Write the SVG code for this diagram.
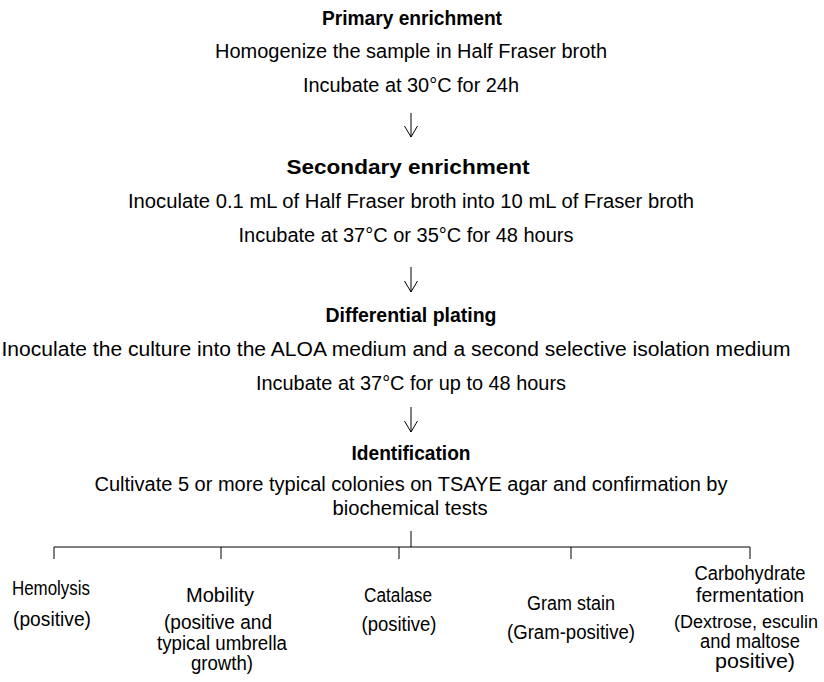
<svg xmlns="http://www.w3.org/2000/svg" width="824" height="682" viewBox="0 0 824 682">
<style>
text{font-family:"Liberation Sans",Arial,sans-serif;font-size:20px;fill:#000;text-anchor:middle}
.b{font-weight:bold}
.sm{font-size:18px}
.ln{stroke:#000;stroke-width:1;fill:none}
</style>
<defs>
<marker id="ah" viewBox="0 0 12 14" refX="11.5" refY="7" markerWidth="12" markerHeight="14" markerUnits="userSpaceOnUse" orient="auto">
<path d="M0.5,0.5 L11.5,7 L0.5,13.5" fill="none" stroke="#000" stroke-width="1"/>
</marker>
</defs>
<rect width="824" height="682" fill="#fff"/>
<g id="primary">
<text class="b" x="412" y="25" textLength="180" lengthAdjust="spacingAndGlyphs">Primary enrichment</text>
<text x="411" y="58" textLength="392" lengthAdjust="spacingAndGlyphs">Homogenize the sample in Half Fraser broth</text>
<text x="411" y="92" textLength="216" lengthAdjust="spacingAndGlyphs">Incubate at 30°C for 24h</text>
</g>
<g id="secondary">
<text class="b" x="408" y="174" textLength="243" lengthAdjust="spacingAndGlyphs">Secondary enrichment</text>
<text x="411" y="208" textLength="566" lengthAdjust="spacingAndGlyphs">Inoculate 0.1 mL of Half Fraser broth into 10 mL of Fraser broth</text>
<text x="406" y="242" textLength="335" lengthAdjust="spacingAndGlyphs">Incubate at 37°C or 35°C for 48 hours</text>
</g>
<g id="plating">
<text class="b" x="411" y="322" textLength="171" lengthAdjust="spacingAndGlyphs">Differential plating</text>
<text x="396" y="356" textLength="789" lengthAdjust="spacingAndGlyphs">Inoculate the culture into the ALOA medium and a second selective isolation medium</text>
<text x="411" y="390" textLength="310" lengthAdjust="spacingAndGlyphs">Incubate at 37°C for up to 48 hours</text>
</g>
<g id="identification">
<text class="b" x="411" y="460" textLength="119" lengthAdjust="spacingAndGlyphs">Identification</text>
<text x="411" y="491" textLength="633" lengthAdjust="spacingAndGlyphs">Cultivate 5 or more typical colonies on TSAYE agar and confirmation by</text>
<text x="410" y="515" textLength="155" lengthAdjust="spacingAndGlyphs">biochemical tests</text>
</g>
<g id="hemolysis">
<text x="51" y="595" textLength="78" lengthAdjust="spacingAndGlyphs">Hemolysis</text>
<text x="52" y="626" textLength="78" lengthAdjust="spacingAndGlyphs">(positive)</text>
</g>
<g id="mobility">
<text x="220" y="602" textLength="68" lengthAdjust="spacingAndGlyphs">Mobility</text>
<text x="218" y="629" textLength="108" lengthAdjust="spacingAndGlyphs">(positive and</text>
<text x="222" y="650" textLength="130" lengthAdjust="spacingAndGlyphs">typical umbrella</text>
<text x="222" y="670" textLength="62" lengthAdjust="spacingAndGlyphs">growth)</text>
</g>
<g id="catalase">
<text x="398" y="602" textLength="68" lengthAdjust="spacingAndGlyphs">Catalase</text>
<text x="399" y="631" textLength="75" lengthAdjust="spacingAndGlyphs">(positive)</text>
</g>
<g id="gram">
<text x="571" y="610" textLength="88" lengthAdjust="spacingAndGlyphs">Gram stain</text>
<text x="571" y="639" textLength="128" lengthAdjust="spacingAndGlyphs">(Gram-positive)</text>
</g>
<g id="carbohydrate">
<text x="750" y="580" textLength="111" lengthAdjust="spacingAndGlyphs">Carbohydrate</text>
<text x="750" y="602" textLength="108" lengthAdjust="spacingAndGlyphs">fermentation</text>
<text class="sm" x="746" y="628" textLength="144" lengthAdjust="spacingAndGlyphs">(Dextrose, esculin</text>
<text x="750" y="648" textLength="100" lengthAdjust="spacingAndGlyphs">and maltose</text>
<text x="755" y="668" textLength="80" lengthAdjust="spacingAndGlyphs">positive)</text>
</g>
<g id="connectors">
<line class="ln" x1="411" y1="113" x2="411" y2="137" marker-end="url(#ah)"/>
<line class="ln" x1="411" y1="267" x2="411" y2="292" marker-end="url(#ah)"/>
<line class="ln" x1="411" y1="407" x2="411" y2="432" marker-end="url(#ah)"/>
<path class="ln" d="M411,531 V547 M54,547 H750 M54,547 V559 M221,547 V559 M399,547 V559 M571,547 V559 M750,547 V559"/>
</g>
</svg>
